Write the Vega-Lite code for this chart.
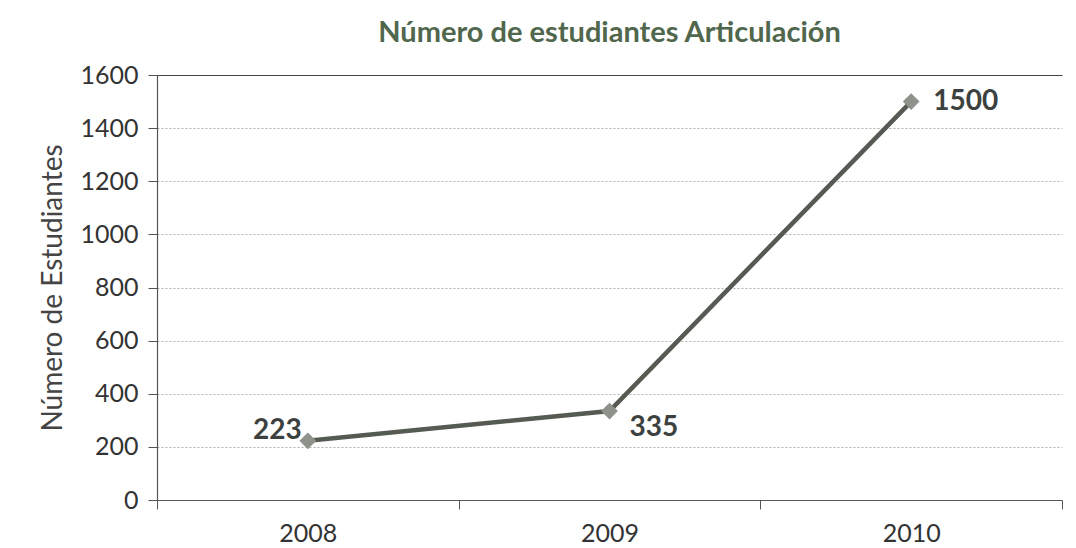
{
  "$schema": "https://vega.github.io/schema/vega-lite/v6.json",
  "width": 905,
  "height": 425,
  "autosize": "none",
  "padding": {"left": 157, "top": 75, "right": 14, "bottom": 48},
  "background": "#ffffff",
  "title": {
    "text": "Número de estudiantes Articulación",
    "font": "Lato",
    "fontSize": 29,
    "fontWeight": "bold",
    "color": "#51674d",
    "anchor": "middle",
    "offset": 15
  },
  "data": {
    "values": [
      {"year": "2008", "students": 223},
      {"year": "2009", "students": 335},
      {"year": "2010", "students": 1500}
    ]
  },
  "config": {
    "view": {"stroke": null},
    "axis": {"labelFont": "Lato", "titleFont": "Lato"}
  },
  "encoding": {
    "x": {
      "field": "year",
      "type": "ordinal",
      "scale": {"type": "band", "paddingInner": 0, "paddingOuter": 0},
      "axis": {
        "title": null,
        "labelAngle": 0,
        "labelFontSize": 25,
        "labelColor": "#333333",
        "labelPadding": 12,
        "tickBand": "extent",
        "tickSize": 9,
        "tickColor": "#555555",
        "domainColor": "#555555",
        "domainWidth": 1.2,
        "grid": false
      }
    },
    "y": {
      "field": "students",
      "type": "quantitative",
      "scale": {"domain": [0, 1600], "nice": false},
      "axis": {
        "title": "Número de Estudiantes",
        "titleFontSize": 28,
        "titleFontWeight": "normal",
        "titleColor": "#444444",
        "titlePadding": 12,
        "format": "d",
        "values": [0, 200, 400, 600, 800, 1000, 1200, 1400, 1600],
        "labelFontSize": 25,
        "labelColor": "#333333",
        "labelPadding": 10,
        "tickSize": 9,
        "tickColor": "#555555",
        "domainColor": "#555555",
        "domainWidth": 1.2,
        "grid": true,
        "gridColor": {"condition": {"test": "datum.value === 1600", "value": "#444444"}, "value": "#b0b0b0"},
        "gridDash": {"condition": {"test": "datum.value === 1600", "value": []}, "value": [2, 2]},
        "gridOpacity": {"condition": {"test": "datum.value === 0", "value": 0}, "value": 1}
      }
    }
  },
  "layer": [
    {"mark": {"type": "line", "color": "#555a52", "strokeWidth": 4.5}},
    {"mark": {"type": "point", "shape": "diamond", "filled": true, "size": 280, "color": "#8d928b", "opacity": 1}},
    {
      "transform": [{"filter": "datum.year === '2008'"}],
      "mark": {"type": "text", "align": "right", "baseline": "middle", "dx": -6, "dy": -10, "font": "Lato", "fontSize": 28, "fontWeight": "bold", "color": "#3c4140"},
      "encoding": {"text": {"field": "students"}}
    },
    {
      "transform": [{"filter": "datum.year === '2009'"}],
      "mark": {"type": "text", "align": "left", "baseline": "middle", "dx": 20, "dy": 17, "font": "Lato", "fontSize": 28, "fontWeight": "bold", "color": "#3c4140"},
      "encoding": {"text": {"field": "students"}}
    },
    {
      "transform": [{"filter": "datum.year === '2010'"}],
      "mark": {"type": "text", "align": "left", "baseline": "middle", "dx": 22, "dy": 0, "font": "Lato", "fontSize": 28, "fontWeight": "bold", "color": "#3c4140"},
      "encoding": {"text": {"field": "students"}}
    }
  ]
}
